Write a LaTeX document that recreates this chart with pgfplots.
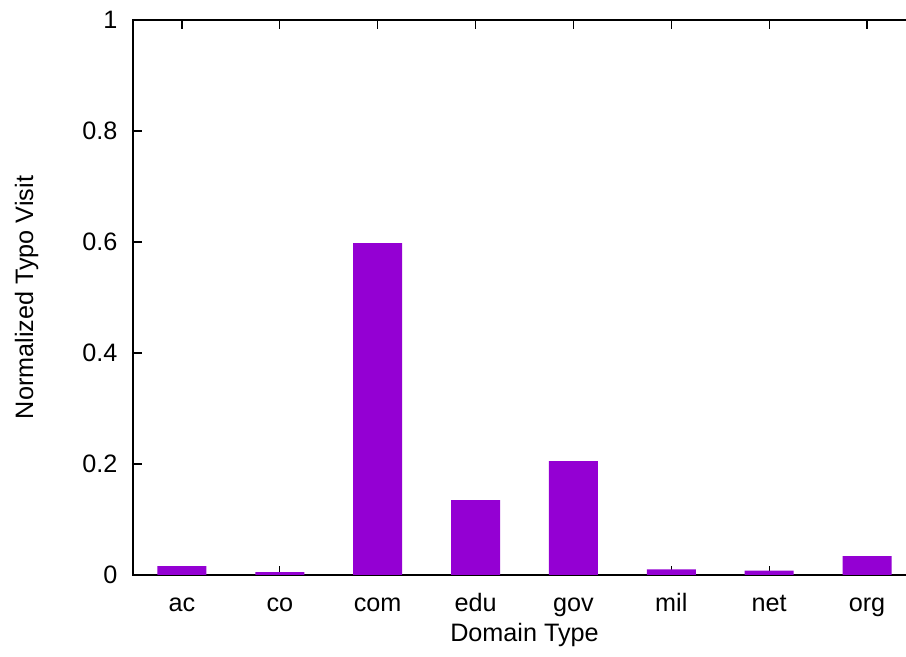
\documentclass[border=0pt]{standalone}
\usepackage{fontspec}
\setmainfont{Liberation Sans}
\usepackage{pgfplots}
\pgfplotsset{compat=1.18}
\definecolor{barviolet}{HTML}{9400D3}
\begin{document}
\begin{tikzpicture}
\begin{axis}[
  scale only axis,
  width=391.5pt, height=277.5pt,
  xmin=-0.5, xmax=7.5, ymin=0, ymax=1,
  xtick={0,...,7},
  xticklabels={ac,co,com,edu,gov,mil,net,org},
  ytick={0,0.2,0.4,0.6,0.8,1},
  tick align=inside,
  major tick length=4.5pt,
  axis line style={line width=0.9pt},
  every tick/.style={black, line width=0.6pt},
  font=\fontsize{12.6}{14}\selectfont,
  /pgf/number format/assume math mode=true,
  xticklabel style={anchor=base, yshift=-18.5pt},
  yticklabel style={xshift=-4.3pt},
  xlabel={Domain Type},
  ylabel={Normalized Typo Visit},
  xlabel style={at={(axis description cs:0.5,-0.1207)}, anchor=base},
  ylabel style={at={(axis description cs:-0.1277,0.5)}, anchor=base},
]
\addplot[ybar, bar width=0.5, fill=barviolet, draw=none]
  coordinates {(0,0.016) (1,0.005) (2,0.598) (3,0.135) (4,0.205) (5,0.010) (6,0.008) (7,0.034)};
\end{axis}
% the page ends just short of the right-hand frame
\pgfresetboundingbox
\path ([xshift=-66.5pt,yshift=-41pt]current axis.south west)
  rectangle ([xshift=386.5pt,yshift=10pt]current axis.north west);
\end{tikzpicture}
\end{document}
